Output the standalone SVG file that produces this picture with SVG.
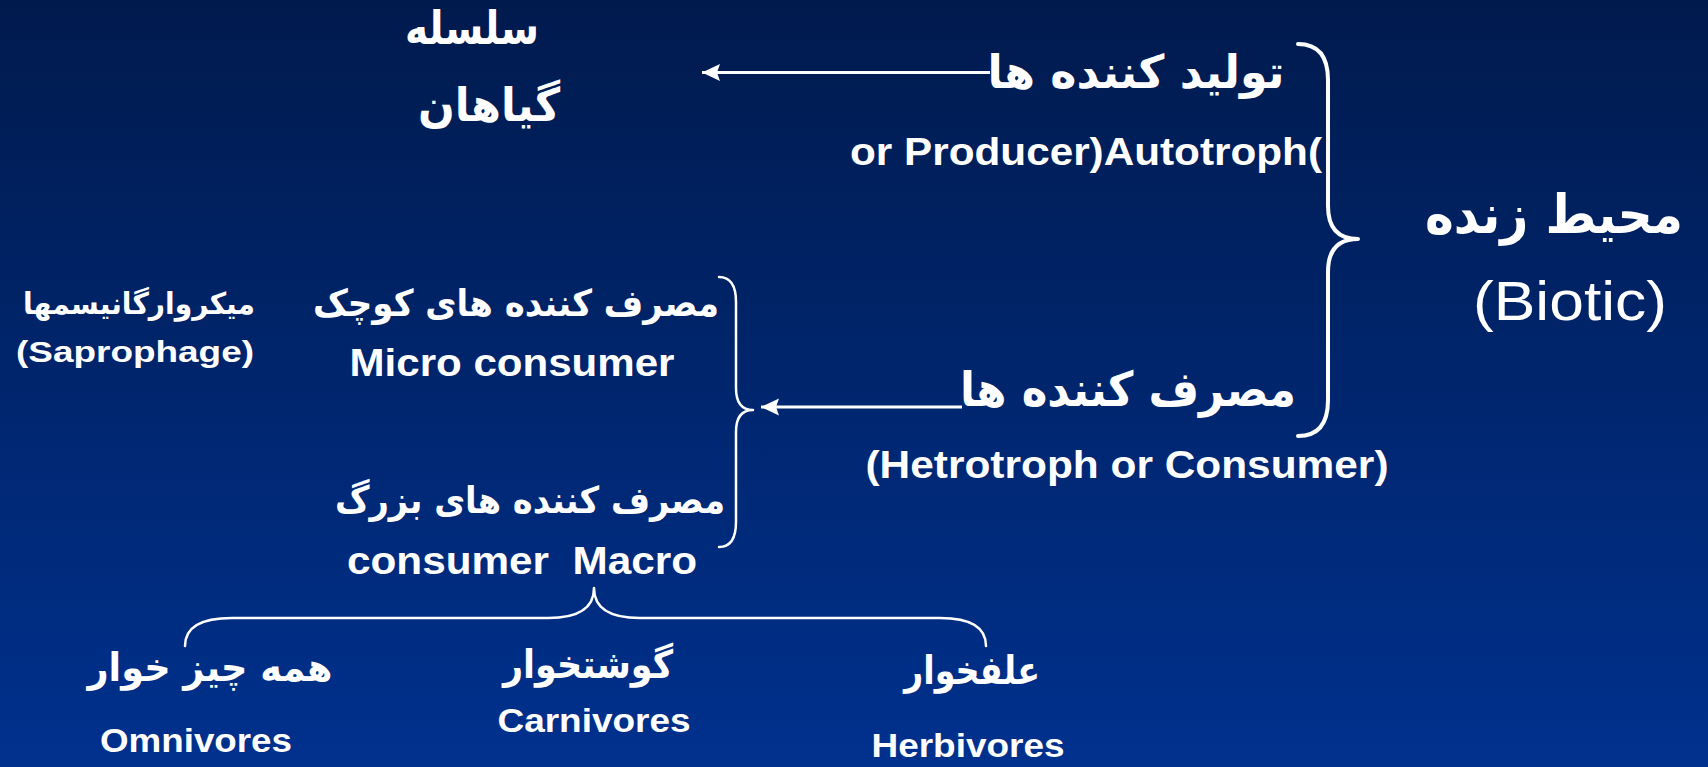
<svg xmlns="http://www.w3.org/2000/svg" width="1708" height="767" viewBox="0 0 1708 767">
<style>
.fa{font-family:"DejaVu Sans","Noto Sans",sans-serif;font-weight:bold;fill:#ffffff;text-anchor:middle}
.en{font-family:"Liberation Sans",Arial,sans-serif;font-weight:bold;fill:#ffffff;text-anchor:middle}
.br{fill:none;stroke:#ffffff;stroke-linecap:round;stroke-linejoin:round}
.ar{fill:none;stroke:#ffffff;stroke-width:3}
</style>
<defs>
<linearGradient id="bg" x1="0" y1="0" x2="0" y2="1">
<stop offset="0" stop-color="#001a4d"/>
<stop offset="1" stop-color="#00318e"/>
</linearGradient>
<marker id="ah" markerUnits="userSpaceOnUse" markerWidth="22" markerHeight="22" refX="18" refY="10" orient="auto">
<path d="M0,1.5 L18,10 L0,18.5 L3,10 z" fill="#ffffff"/>
</marker>
</defs>
<rect x="0" y="0" width="1708" height="767" fill="url(#bg)"/>

<g id="connectors">
<line class="ar" x1="990" y1="72.5" x2="702" y2="72.5" marker-end="url(#ah)"/>
<line class="ar" x1="962" y1="407" x2="761" y2="407" marker-end="url(#ah)"/>
<path class="br" stroke-width="4" d="M1298,44 Q1328,44 1328,80 L1328,206 Q1328,239 1358,239 Q1328,239 1328,272 L1328,400 Q1328,436 1298,436"/>
<path class="br" stroke-width="2.5" d="M719,277 Q736,277 736,302 L736,388 Q736,410 753,410 Q736,410 736,432 L736,522 Q736,547 719,547"/>
<path class="br" stroke-width="2.5" d="M185,646 Q185,618 232,618 L548,618 Q594,618 594,588 Q594,618 640,618 L940,618 Q986,618 986,646"/>
</g>

<g id="plants">
<text class="fa" x="472" y="44" font-size="46" textLength="134" lengthAdjust="spacingAndGlyphs">سلسله</text>
<text class="fa" x="489" y="121" font-size="46" textLength="142" lengthAdjust="spacingAndGlyphs">گیاهان</text>
</g>

<g id="producers">
<text class="fa" x="1136" y="88" font-size="46" textLength="297" lengthAdjust="spacingAndGlyphs">تولید کننده ها</text>
<text class="en" x="1086" y="165" font-size="38" textLength="472" lengthAdjust="spacingAndGlyphs">or Producer)Autotroph(</text>
</g>

<g id="biotic">
<text class="fa" x="1554" y="233" font-size="54" textLength="258" lengthAdjust="spacingAndGlyphs">محیط زنده</text>
<text class="en" x="1570" y="320" font-size="56" style="font-weight:normal" textLength="194" lengthAdjust="spacingAndGlyphs">(Biotic)</text>
</g>

<g id="saprophage">
<text class="fa" x="139" y="314" font-size="30" textLength="232" lengthAdjust="spacingAndGlyphs">میکروارگانیسمها</text>
<text class="en" x="135" y="362" font-size="30" textLength="238" lengthAdjust="spacingAndGlyphs">(Saprophage)</text>
</g>

<g id="micro">
<text class="fa" x="516" y="316" font-size="37" textLength="406" lengthAdjust="spacingAndGlyphs">مصرف کننده های کوچک</text>
<text class="en" x="512" y="376" font-size="39" textLength="325" lengthAdjust="spacingAndGlyphs">Micro consumer</text>
</g>

<g id="consumers">
<text class="fa" x="1128" y="406" font-size="48" textLength="336" lengthAdjust="spacingAndGlyphs">مصرف کننده ها</text>
<text class="en" x="1127" y="478" font-size="38" textLength="523" lengthAdjust="spacingAndGlyphs">(Hetrotroph or Consumer)</text>
</g>

<g id="macro">
<text class="fa" x="530" y="513" font-size="37" textLength="390" lengthAdjust="spacingAndGlyphs">مصرف کننده های بزرگ</text>
<text class="en" x="522" y="574" font-size="39" textLength="350" lengthAdjust="spacingAndGlyphs">consumer&#160; Macro</text>
</g>

<g id="omnivores">
<text class="fa" x="210" y="681" font-size="39" textLength="245" lengthAdjust="spacingAndGlyphs">همه چیز خوار</text>
<text class="en" x="196" y="752" font-size="34" textLength="192" lengthAdjust="spacingAndGlyphs">Omnivores</text>
</g>

<g id="carnivores">
<text class="fa" x="588" y="678" font-size="39" textLength="170" lengthAdjust="spacingAndGlyphs">گوشتخوار</text>
<text class="en" x="594" y="732" font-size="34" textLength="193" lengthAdjust="spacingAndGlyphs">Carnivores</text>
</g>

<g id="herbivores">
<text class="fa" x="972" y="684" font-size="39" textLength="136" lengthAdjust="spacingAndGlyphs">علفخوار</text>
<text class="en" x="968" y="757" font-size="34" textLength="193" lengthAdjust="spacingAndGlyphs">Herbivores</text>
</g>
</svg>
